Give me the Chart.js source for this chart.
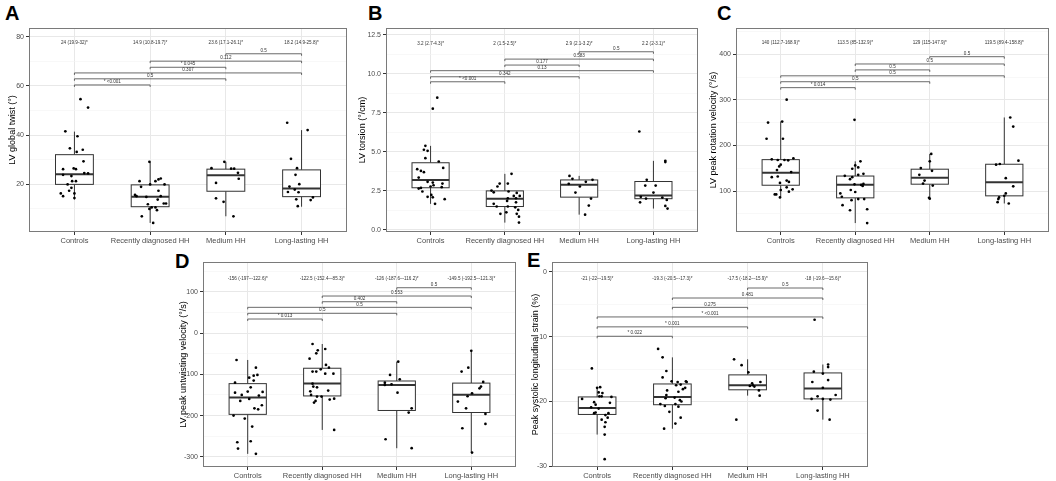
<!DOCTYPE html>
<html>
<head>
<meta charset="utf-8">
<script src="https://cdn.jsdelivr.net/npm/chart.js@4.4.1/dist/chart.umd.min.js"></script>
<style>
html, body { margin: 0; padding: 0; background: #fff; }
body { width: 1056px; height: 481px; position: relative; overflow: hidden; font-family: "Liberation Sans", Arial, sans-serif; }
canvas { position: absolute; }
.tag { position: absolute; font-weight: bold; font-size: 20px; line-height: 20px; color: #000; }
</style>
</head>
<body>
<div class="tag" style="left:5px;top:3px">A</div>
<div class="tag" style="left:368px;top:3px">B</div>
<div class="tag" style="left:717px;top:3px">C</div>
<div class="tag" style="left:175px;top:251px">D</div>
<div class="tag" style="left:527px;top:250px">E</div>
<canvas id="chartA"></canvas>
<canvas id="chartB"></canvas>
<canvas id="chartC"></canvas>
<canvas id="chartD"></canvas>
<canvas id="chartE"></canvas>
<script>
const categories = ['Controls', 'Recently diagnosed HH', 'Medium HH', 'Long-lasting HH'];
// group pairs compared by the brackets (1-based)
const pairs = [[1, 2], [1, 3], [1, 4], [2, 3], [2, 4], [3, 4]];

// A - LV global twist
const twistVals = [
  [54.6, 51.2, 41.5, 39.5, 34.6, 34.0, 33.1, 29.3, 26.1, 26.4, 26.1, 24.5, 24.4, 23.8, 23.3, 21.2, 21.2, 19.9, 18.5, 17.3, 16.2, 15.1, 16.2, 14.3],
  [29.1, 21.2, 21.2, 21.9, 22.3, 19.9, 19.9, 18.9, 17.3, 15.6, 15.1, 14.8, 15.1, 13.7, 12.1, 12.1, 11.8, 10.5, 10.5, 9.9, 9.4, 6.9, 4.2],
  [29.1, 26.5, 26.3, 26.3, 24.6, 22.2, 20.5, 14.2, 12.8, 6.9],
  [45.0, 42.0, 30.3, 26.5, 23.8, 20.0, 19.0, 17.8, 16.7, 16.8, 14.6, 13.5, 13.8, 11.0]
];
const twistJitter = [
  [0.08, 0.18, -0.12, 0.04, -0.06, 0.11, 0.03, 0.12, -0.15, -0.01, 0.02, 0.13, 0.18, -0.15, -0.04, -0.03, 0.02, -0.09, -0.04, -0.07, -0.18, -0.15, 0, 0],
  [-0.01, -0.14, 0.07, 0.11, 0.14, 0, 0.19, -0.12, 0.11, -0.2, -0.18, -0.05, 0.14, 0.1, 0.18, 0.21, -0.03, 0.02, 0.07, -0.01, 0.09, -0.11, 0.04],
  [-0.02, -0.19, 0.07, 0.11, 0.16, 0.17, -0.13, -0.13, -0.03, 0.1],
  [-0.19, 0.08, -0.14, -0.06, -0.08, -0.03, -0.16, -0.09, -0.04, -0.18, 0.15, 0.12, -0.07, -0.05]
];
const twistQ1 = [19.9, 10.8, 17.1, 14.9];
const twistMed = [24, 14.9, 23.6, 18.2];
const twistQ3 = [32, 19.7, 26.1, 25.8];
const twistLow = [13.8, 4.2, 6.9, 10.8];
const twistHigh = [41.4, 29.1, 29.1, 42.0];
const twistSummary = ['24 (19.9-32)*', '14.9 (10.8-19.7)*', '23.6 (17.1-26.1)*', '18.2 (14.9-25.8)*'];
const twistP = ['* <0.001', '0.5', '0.307', '* 0.045', '0.112', '0.5'];
const twistPLevel = [60.4, 62.9, 65.3, 67.6, 70.1, 73.1];
const twistSummaryLevel = 77.5;
const twistTicks = [20, 40, 60, 80];
const twistMinor = [10, 30, 50, 70];

// B - LV torsion
const torsionVals = [
  [8.46, 7.76, 5.38, 5.13, 5.06, 4.59, 4.38, 3.97, 3.89, 3.78, 3.70, 3.35, 3.08, 3.03, 2.97, 2.86, 2.78, 2.74, 2.69, 2.65, 2.46, 2.24, 2.12, 2.09, 1.97, 1.67],
  [3.59, 2.97, 2.97, 2.78, 2.52, 2.41, 2.46, 2.37, 2.18, 2.18, 2.03, 2.03, 1.86, 1.77, 1.67, 1.50, 1.50, 1.45, 1.28, 1.03, 1.03, 0.85, 0.47, 1.13],
  [3.46, 3.27, 3.08, 3.21, 2.95, 2.78, 2.39, 2.01, 1.56, 0.98],
  [6.30, 4.42, 4.34, 3.21, 2.84, 2.84, 2.39, 2.07, 2.12, 2.01, 1.92, 1.77, 1.54, 1.37]
];
const torsionJitter = [
  [0.09, 0.03, -0.07, -0.09, -0.04, -0.07, 0.11, 0.17, -0.18, -0.13, -0.09, -0.16, -0.04, 0.03, 0.16, 0.04, 0, 0.15, -0.13, -0.16, -0.11, 0.01, -0.04, 0.03, 0.19, 0.06],
  [0.09, 0.04, -0.07, -0.1, -0.18, -0.15, 0.05, 0.16, 0.2, 0.12, 0.04, 0.15, 0.03, 0.15, -0.15, -0.11, 0.04, 0.14, 0.18, -0.06, 0.16, 0.19, 0.19, 0.02],
  [-0.13, -0.09, 0.09, 0.18, -0.14, 0.01, -0.05, 0.16, 0.13, 0.08],
  [-0.19, 0.16, 0.16, -0.09, -0.11, 0.03, 0, 0.12, -0.17, -0.1, 0.18, -0.18, 0.16, 0.19]
];
const torsionQ1 = [2.7, 1.5, 2.1, 2];
const torsionMed = [3.2, 2, 2.9, 2.2];
const torsionQ3 = [4.3, 2.5, 3.2, 3.1];
const torsionLow = [1.67, 0.47, 0.98, 1.37];
const torsionHigh = [5.38, 3.59, 3.46, 4.42];
const torsionSummary = ['3.2 (2.7-4.3)*', '2 (1.5-2.5)*', '2.9 (2.1-3.2)*', '2.2 (2-3.1)*'];
const torsionP = ['* <0.001', '0.342', '0.13', '0.177', '0.583', '0.5'];
const torsionPLevel = [9.48, 9.80, 10.19, 10.55, 10.93, 11.40];
const torsionSummaryLevel = 11.94;
const torsionTicks = [0, 2.5, 5, 7.5, 10, 12.5];
const torsionMinor = [1.25, 3.75, 6.25, 8.75, 11.25];

// C - LV peak rotation velocity
const rotationVals = [
  [300.7, 250.4, 252.6, 214.8, 214.8, 169.6, 168.1, 168.1, 167.4, 171.9, 157.8, 154.1, 145.9, 141.5, 130.4, 131.9, 117.8, 123.0, 120.0, 102.2, 103.7, 98.5, 92.6, 92.6, 85.9, 108.1],
  [256.3, 165.2, 156.3, 151.9, 148.9, 133.3, 130.4, 125.9, 135.6, 137.8, 114.8, 113.3, 115.6, 111.1, 94.8, 87.4, 102.2, 97.8, 80.0, 82.2, 82.2, 68.9, 57.8, 60.0, 29.6],
  [181.5, 165.2, 150.4, 144.4, 135.6, 123.0, 116.3, 111.9, 85.2, 83.0],
  [261.5, 241.5, 166.7, 157.8, 159.3, 128.1, 110.4, 94.8, 89.6, 85.9, 82.2, 75.6, 72.6]
];
const rotationJitter = [
  [0.08, -0.17, 0.02, -0.19, 0.03, -0.12, -0.04, 0.05, 0.1, 0.17, 0, -0.02, -0.05, 0.14, -0.12, -0.04, -0.01, 0.08, 0.11, 0, 0.16, 0.11, -0.06, -0.08, -0.01, 0.08],
  [-0.01, 0.07, 0, 0.04, -0.04, -0.14, -0.04, -0.07, 0.04, 0.11, -0.01, 0.08, 0.11, 0.1, -0.2, -0.18, -0.06, 0, -0.05, 0.04, 0.12, -0.17, -0.07, 0.16, 0.16],
  [0.02, 0, -0.12, 0.03, -0.14, -0.07, -0.09, 0.04, -0.01, 0],
  [0.08, 0.12, 0.19, -0.11, -0.06, 0.02, 0.12, 0.02, 0, -0.07, -0.08, -0.09, 0.06]
];
const rotationQ1 = [112.7, 85, 115, 89.4];
const rotationMed = [140, 113.5, 129, 119.5];
const rotationQ3 = [168.9, 132.9, 147.9, 158.8];
const rotationLow = [85.9, 29.6, 83, 72.6];
const rotationHigh = [252.6, 165.2, 181.5, 261.5];
const rotationSummary = ['140 (112.7-168.9)*', '113.5 (85-132.9)*', '129 (115-147.9)*', '119.5 (89.4-158.8)*'];
const rotationP = ['* 0.014', '0.5', '0.5', '0.5', '0.5', '0.5'];
const rotationPLevel = [327, 340, 353, 366, 379, 395];
const rotationSummaryLevel = 424.6;
const rotationTicks = [100, 200, 300, 400];
const rotationMinor = [50, 150, 250, 350, 450];

// D - LV peak untwisting velocity
const untwistVals = [
  [-65.3, -83.9, -103.2, -101.6, -108.1, -115.3, -120.2, -131.5, -144.4, -142.7, -141.9, -150, -151.6, -159.7, -164.5, -175, -182.3, -184.7, -200, -207.3, -226.6, -264.5, -262.1, -279.8, -292.7],
  [-26.6, -41.9, -38.7, -49.2, -62.1, -77.4, -83.9, -93.5, -93.5, -98.4, -98.4, -87.9, -122.6, -129.8, -131.5, -139.5, -141.1, -150, -154, -154, -158.9, -161.3, -168.5, -164.5, -234.7],
  [-69.4, -101.6, -112.1, -120.2, -125.8, -124.2, -144.4, -182.3, -192.7, -257.3, -279],
  [-43, -83.9, -93.5, -118.5, -129.8, -133.9, -146, -153.2, -166.1, -182.3, -196, -220.2, -230.6, -289.5]
];
const untwistJitter = [
  [-0.15, 0.11, 0.08, 0.13, 0.02, 0.08, -0.17, 0.04, -0.17, 0.2, 0, -0.08, 0.15, 0.02, -0.1, 0.19, 0.09, 0.14, -0.19, -0.04, 0.06, -0.14, 0.04, -0.13, 0.11],
  [-0.13, -0.06, 0.04, -0.08, -0.17, 0.05, 0.09, -0.13, -0.08, 0.04, 0.15, -0.02, -0.13, -0.12, -0.07, 0.08, -0.16, -0.15, -0.07, -0.01, 0.16, 0.1, -0.11, -0.09, 0.16],
  [0.02, -0.09, 0.04, -0.16, -0.16, -0.07, 0.01, 0.2, 0.16, -0.15, 0.2],
  [0, -0.04, -0.13, 0.16, 0.13, 0.11, 0.01, -0.05, -0.18, -0.07, 0.19, 0.19, -0.12, 0.01]
];
const untwistQ1 = [-197, -152.4, -187.6, -192.5];
const untwistMed = [-156, -122.5, -126, -149.5];
const untwistQ3 = [-122.6, -85.3, -116.2, -121.3];
const untwistLow = [-292.7, -234.7, -279, -289.5];
const untwistHigh = [-65.3, -26.6, -69.4, -43];
const untwistSummary = ['-156 (-197–-122.6)*', '-122.5 (-152.4–-85.3)*', '-126 (-187.6–-116.2)*', '-149.5 (-192.5–-121.3)*'];
const untwistP = ['* 0.013', '0.5', '0.5', '0.402', '0.553', '0.5'];
const untwistPLevel = [33.9, 47.7, 62.2, 75.8, 89.6, 109.7];
const untwistSummaryLevel = 130.7;
const untwistTicks = [-300, -200, -100, 0, 100];
const untwistMinor = [-250, -150, -50, 50, 150];

// E - Peak systolic longitudinal strain
const strainVals = [
  [-14.9, -17.9, -17.8, -18.7, -18.6, -19.3, -19.2, -19.2, -19.6, -20.1, -20.5, -20.2, -20.9, -21.1, -21.8, -21.7, -21.8, -22.1, -22.5, -22.8, -23.2, -23.9, -25.1, -28.9],
  [-11.9, -13.2, -15.3, -16.3, -16.9, -17.0, -16.9, -17.0, -17.4, -17.5, -17.9, -18.1, -18.3, -18.5, -19.0, -19.5, -19.4, -19.8, -20.0, -20.4, -20.7, -20.4, -20.8, -21.6, -22.5, -23.4, -24.2],
  [-13.5, -14.4, -15.5, -17.0, -17.2, -17.7, -17.6, -17.5, -18.3, -19.1, -22.8],
  [-7.4, -14.3, -14.7, -15.4, -15.7, -17.0, -16.7, -17.9, -19.0, -19.2, -19.6, -19.6, -19.7, -21.4, -22.8]
];
const strainJitter = [
  [-0.07, 0, 0.04, 0.07, 0.02, 0.19, 0.03, 0.06, -0.2, -0.04, -0.02, 0.17, -0.08, 0.02, -0.04, -0.02, 0.15, 0.11, 0.14, 0.06, 0.11, 0.1, 0.1, 0.1],
  [-0.19, -0.13, -0.08, -0.13, -0.01, 0.07, 0.18, 0.19, 0.11, 0.05, 0.17, 0.14, -0.07, 0.08, -0.08, -0.09, 0.03, 0.1, 0.12, -0.16, -0.1, 0.04, 0.08, -0.04, 0.11, 0.04, -0.11],
  [-0.18, -0.08, 0.01, 0.17, 0.06, 0.09, 0.03, 0.07, 0.15, 0.16, -0.15],
  [-0.11, 0.07, 0.07, -0.12, 0, -0.14, 0.07, 0, 0.17, -0.07, -0.15, 0, 0.1, -0.07, 0.09]
];
const strainQ1 = [-22, -20.5, -18.2, -19.6];
const strainMed = [-21, -19.3, -17.5, -18];
const strainQ3 = [-19.3, -17.3, -15.9, -15.6];
const strainLow = [-25.1, -24.2, -19.1, -22.8];
const strainHigh = [-17.8, -13.2, -13.5, -14.3];
const strainSummary = ['-21 (-22–-19.5)*', '-19.3 (-20.5–-17.3)*', '-17.5 (-18.2–-15.9)*', '-18 (-19.6–-15.6)*'];
const strainP = ['* 0.022', '* 0.001', '* <0.001', '0.275', '0.481', '0.5'];
const strainPLevel = [-9.95, -8.5, -6.97, -5.49, -4.05, -2.51];
const strainSummaryLevel = -1.08;
const strainTicks = [-30, -20, -10, 0];
const strainMinor = [-25, -15, -5];

const FONT = '"Liberation Sans", Arial, sans-serif';
const INK = '#333333';

function boxPlugin(d) {
  return {
    id: 'boxes',
    beforeDatasetsDraw(chart) {
      const { ctx, scales: { x, y } } = chart;
      ctx.save();
      ctx.strokeStyle = INK;
      for (let g = 0; g < categories.length; g++) {
        const cx = x.getPixelForValue(g + 1);
        const x0 = x.getPixelForValue(g + 1 - 0.25);
        const x1 = x.getPixelForValue(g + 1 + 0.25);
        const yq1 = y.getPixelForValue(d.q1[g]);
        const yq3 = y.getPixelForValue(d.q3[g]);
        ctx.lineWidth = 1;
        ctx.beginPath();
        ctx.moveTo(cx, yq3); ctx.lineTo(cx, y.getPixelForValue(d.high[g]));
        ctx.moveTo(cx, yq1); ctx.lineTo(cx, y.getPixelForValue(d.low[g]));
        ctx.stroke();
        ctx.fillStyle = '#fff';
        ctx.fillRect(x0, yq3, x1 - x0, yq1 - yq3);
        ctx.strokeRect(x0, yq3, x1 - x0, yq1 - yq3);
        ctx.lineWidth = 2;
        const ym = y.getPixelForValue(d.med[g]);
        ctx.beginPath();
        ctx.moveTo(x0, ym); ctx.lineTo(x1, ym);
        ctx.stroke();
      }
      ctx.restore();
    },
    afterDatasetsDraw(chart) {
      const { ctx, scales: { x, y } } = chart;
      ctx.save();
      ctx.strokeStyle = '#444';
      ctx.fillStyle = INK;
      ctx.lineWidth = 0.8;
      ctx.font = '4.6px ' + FONT;
      ctx.textAlign = 'center';
      pairs.forEach(([a, b], k) => {
        const xa = x.getPixelForValue(a), xb = x.getPixelForValue(b);
        const yl = y.getPixelForValue(d.pLevel[k]);
        ctx.beginPath();
        ctx.moveTo(xa, yl + 2); ctx.lineTo(xa, yl); ctx.lineTo(xb, yl); ctx.lineTo(xb, yl + 2);
        ctx.stroke();
        ctx.textBaseline = 'bottom';
        ctx.fillText(d.pText[k], (xa + xb) / 2, yl - 0.8);
      });
      ctx.textBaseline = 'middle';
      d.summary.forEach((t, g) => {
        ctx.fillText(t, x.getPixelForValue(g + 1), y.getPixelForValue(d.summaryLevel));
      });
      ctx.restore();
    },
    afterDraw(chart) {
      const { ctx, chartArea: a } = chart;
      ctx.save();
      ctx.strokeStyle = '#7a7a7a';
      ctx.lineWidth = 1;
      ctx.strokeRect(a.left + 0.5, a.top + 0.5, a.right - a.left - 1, a.bottom - a.top - 1);
      ctx.restore();
    }
  };
}

function drawPanel(id, geo, d) {
  const canvas = document.getElementById(id);
  const [L, T, R, B] = geo.plot;
  const left = geo.titleX - 6, top = T - 8;
  const w = R + 3 - left, h = B + 15 - top;
  canvas.width = w; canvas.height = h;
  canvas.style.left = left + 'px'; canvas.style.top = top + 'px';
  canvas.style.width = w + 'px'; canvas.style.height = h + 'px';

  const points = [];
  d.vals.forEach((grp, g) => grp.forEach((v, i) => points.push({ x: g + 1 + d.jit[g][i], y: v })));

  const yTicks = d.ticks.map(v => ({ value: v }))
    .concat(d.minor.map(v => ({ value: v, minor: true })))
    .sort((p, q) => p.value - q.value);

  new Chart(canvas, {
    type: 'scatter',
    data: {
      datasets: [{
        data: points,
        pointRadius: 1.35,
        pointBackgroundColor: '#000',
        pointBorderWidth: 0
      }]
    },
    options: {
      responsive: false,
      animation: false,
      events: [],
      layout: { padding: { left: 0, top: 8, right: 3, bottom: 0 } },
      plugins: { legend: { display: false }, tooltip: { enabled: false } },
      scales: {
        x: {
          type: 'linear',
          min: 0.4,
          max: 4.6,
          afterBuildTicks: s => { s.ticks = categories.map((c, i) => ({ value: i + 1 })); },
          afterFit: s => { s.height = 15; },
          border: { display: false },
          grid: { color: '#e8e8e8', lineWidth: 1, tickLength: 3, tickColor: INK, tickWidth: 1 },
          ticks: {
            autoSkip: false,
            maxRotation: 0,
            padding: 1,
            color: '#4d4d4d',
            font: { family: FONT, size: 7.5 },
            callback: (v) => categories[Math.round(v) - 1]
          }
        },
        y: {
          type: 'linear',
          min: d.range[0],
          max: d.range[1],
          afterBuildTicks: s => { s.ticks = yTicks.map(t => ({ ...t })); },
          afterFit: s => { s.width = L - left; },
          border: { display: false },
          title: {
            display: true,
            text: d.title,
            color: '#000',
            font: { family: FONT, size: 9 },
            padding: { top: 1, bottom: 0 }
          },
          grid: {
            color: c => (c.tick && c.tick.minor ? '#f3f3f3' : '#e8e8e8'),
            lineWidth: c => (c.tick && c.tick.minor ? 0.6 : 1),
            tickLength: 3,
            tickWidth: 1,
            tickColor: c => (c.tick && c.tick.minor ? 'rgba(0,0,0,0)' : INK)
          },
          ticks: {
            autoSkip: false,
            padding: 2,
            color: '#4d4d4d',
            font: { family: FONT, size: 7 },
            callback: (v, i, ts) => (ts[i].minor ? '' : d.fmt(v))
          }
        }
      }
    },
    plugins: [boxPlugin(d)]
  });
}

drawPanel('chartA', { plot: [29, 28, 348, 232], titleX: 12 }, {
  vals: twistVals, jit: twistJitter, q1: twistQ1, med: twistMed, q3: twistQ3, low: twistLow, high: twistHigh,
  summary: twistSummary, summaryLevel: twistSummaryLevel, pText: twistP, pLevel: twistPLevel,
  ticks: twistTicks, minor: twistMinor, range: [0.5, 83.6], title: 'LV global twist (°)', fmt: v => String(v)
});
drawPanel('chartB', { plot: [386, 28, 699, 232], titleX: 362 }, {
  vals: torsionVals, jit: torsionJitter, q1: torsionQ1, med: torsionMed, q3: torsionQ3, low: torsionLow, high: torsionHigh,
  summary: torsionSummary, summaryLevel: torsionSummaryLevel, pText: torsionP, pLevel: torsionPLevel,
  ticks: torsionTicks, minor: torsionMinor, range: [-0.13, 12.92], title: 'LV torsion (°/cm)', fmt: v => v.toFixed(1)
});
drawPanel('chartC', { plot: [736, 28, 1050, 232], titleX: 713 }, {
  vals: rotationVals, jit: rotationJitter, q1: rotationQ1, med: rotationMed, q3: rotationQ3, low: rotationLow, high: rotationHigh,
  summary: rotationSummary, summaryLevel: rotationSummaryLevel, pText: rotationP, pLevel: rotationPLevel,
  ticks: rotationTicks, minor: rotationMinor, range: [10, 458], title: 'LV peak rotation velocity (°/s)', fmt: v => String(v)
});
drawPanel('chartD', { plot: [203, 262, 517, 467], titleX: 183 }, {
  vals: untwistVals, jit: untwistJitter, q1: untwistQ1, med: untwistMed, q3: untwistQ3, low: untwistLow, high: untwistHigh,
  summary: untwistSummary, summaryLevel: untwistSummaryLevel, pText: untwistP, pLevel: untwistPLevel,
  ticks: untwistTicks, minor: untwistMinor, range: [-324.5, 172], title: 'LV peak untwisting velocity (°/s)', fmt: v => String(v)
});
drawPanel('chartE', { plot: [552, 262, 869, 467], titleX: 535 }, {
  vals: strainVals, jit: strainJitter, q1: strainQ1, med: strainMed, q3: strainQ3, low: strainLow, high: strainHigh,
  summary: strainSummary, summaryLevel: strainSummaryLevel, pText: strainP, pLevel: strainPLevel,
  ticks: strainTicks, minor: strainMinor, range: [-30.1, 1.5], title: 'Peak systolic longitudinal strain (%)', fmt: v => String(v)
});
</script>
</body>
</html>
